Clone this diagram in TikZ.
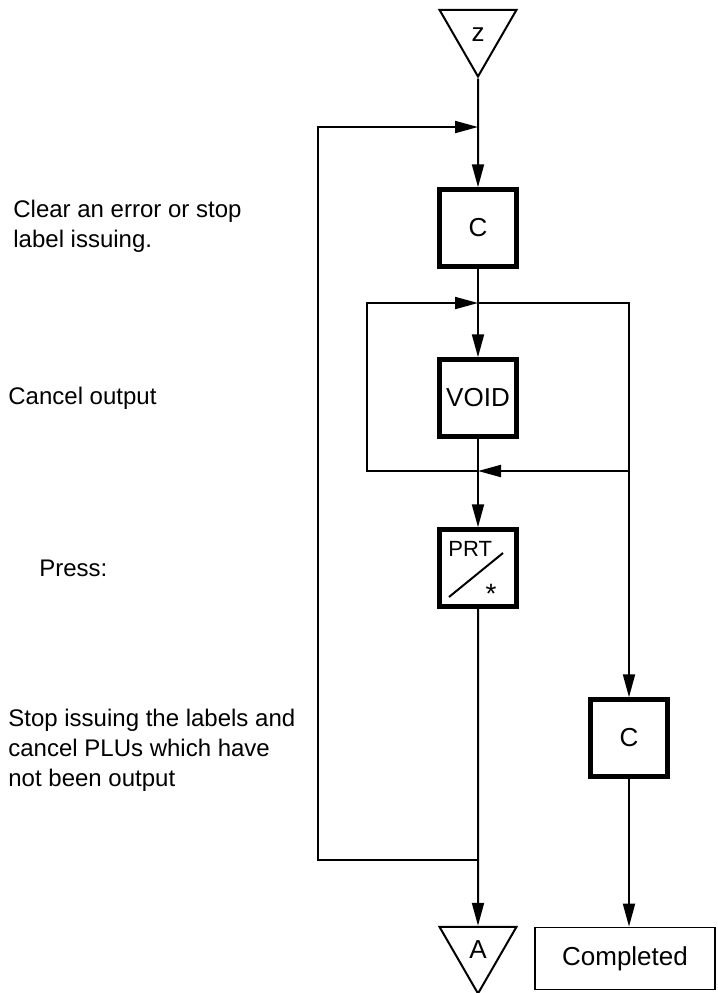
\documentclass[tikz,border=0pt]{standalone}
\usepackage{fontspec}
\setmainfont{Liberation Sans}
\usetikzlibrary{arrows.meta,shapes.geometric}
\tikzset{
  key/.style={draw,rectangle,line width=2.25pt,minimum size=38.5pt,inner sep=0pt,font=\fontsize{13}{15}\selectfont},
  conn/.style={draw,regular polygon,regular polygon sides=3,shape border rotate=180,minimum size=44.5pt,inner sep=0pt,line width=1pt,text height=9.5pt,text depth=0pt,font=\fontsize{13}{15}\selectfont},
  endbox/.style={draw,rectangle,line width=0.9pt,minimum width=90pt,minimum height=31pt,inner sep=0pt,font=\fontsize{13}{15}\selectfont},
  note/.style={anchor=west,inner sep=0pt,align=left,font=\fontsize{12}{15}\selectfont},
  keytxt/.style={inner sep=0pt,font=\fontsize{11}{13}\selectfont},
  flow/.style={line width=1pt,-{Triangle[length=11.5pt,width=6pt]}},
  wire/.style={line width=1pt},
}
\begin{document}
\begin{tikzpicture}[x=0.5pt,y=0.5pt]
  \useasboundingbox (0,0) rectangle (718,-993);
  \node[conn] (zt) at (478,-32) {z};
  \node[key] (c1) at (478,-228) {C};
  \node[key] (void) at (478,-398) {VOID};
  \node[key] (prt) at (478,-568) {};
  \node[key] (c2) at (629,-738) {C};
  \node[conn] (at) at (478,-949) {A};
  \node[endbox] (done) at (625,-958.5) {Completed};
  \node[keytxt,anchor=base west] (prtlab) at (448,-556) {PRT};
  \node[keytxt,font=\fontsize{14}{16}\selectfont] (prtstar) at (491,-594) {*};
  \draw[wire] (449,-597) -- (503,-553);
  \coordinate (j1) at (478,-127);
  \coordinate (j2) at (478,-303);
  \coordinate (j3) at (478,-471);
  \coordinate (j4) at (478,-860);
  \draw[flow] (zt.south) -- (c1.north);
  \draw[flow] (c1.south) -- (void.north);
  \draw[flow] (void.south) -- (prt.north);
  \draw[flow] (prt.south) -- (at.north);
  \draw[flow] (j4) -- ++(-160,0) |- (j1);
  \draw[flow] (j3) -- ++(-111,0) |- (j2);
  \draw[flow] (j2) -| (c2.north);
  \draw[flow] (j3 -| c2) -- (j3);
  \draw[flow] (c2.south) -- (c2.south |- done.north);
  \node[note] (t1) at (13,-226) {Clear an error or stop\\label issuing.};
  \node[note] (t2) at (8,-398) {Cancel output};
  \node[note] (t3) at (39,-568) {Press:};
  \node[note] (t4) at (8,-750) {Stop issuing the labels and\\cancel PLUs which have\\not been output};
\end{tikzpicture}
\end{document}
